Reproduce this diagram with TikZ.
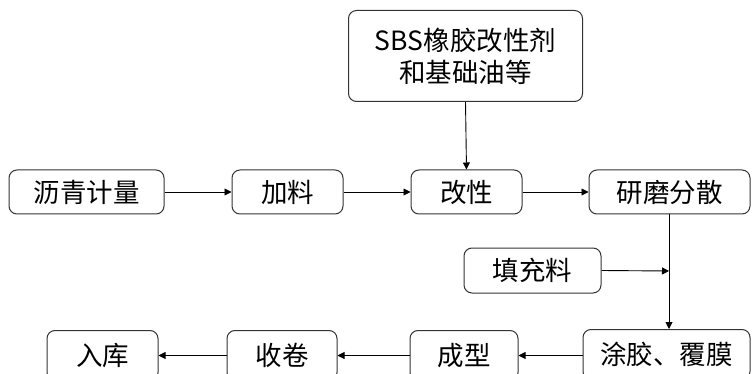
\documentclass[tikz,border=0pt]{standalone}
\usepackage{fontspec}
\setmainfont{Noto Sans CJK SC}
\usetikzlibrary{arrows.meta}
\begin{document}
\begin{tikzpicture}[x=1pt,y=-1pt,
  box/.style={draw=black!80,line width=1pt,rounded corners=8pt,inner sep=0pt,align=center,font=\fontsize{26.5}{32}\selectfont},
  conn/.style={line width=0.9pt,-{Triangle[length=7pt,width=7pt]}}]
\useasboundingbox (0,0) rectangle (752,374);
\clip (0,0) rectangle (752,374);
\node[box,minimum width=234pt,minimum height=91pt] (top) at (465.5,56) {SBS橡胶改性剂\\和基础油等};
\node[box,minimum width=155pt,minimum height=44pt] (a) at (86.5,192) {沥青计量};
\node[box,minimum width=111pt,minimum height=44pt] (b) at (287.5,192) {加料};
\node[box,minimum width=111pt,minimum height=44pt] (c) at (466.5,192) {改性};
\node[box,minimum width=161pt,minimum height=44pt] (d) at (669.5,192) {研磨分散};
\node[box,minimum width=137pt,minimum height=45pt] (f) at (532.5,270.5) {填充料};
\node[box,minimum width=167pt,minimum height=50pt,anchor=north] (g) at (666.5,329) {涂胶、覆膜};
\node[box,minimum width=108pt,minimum height=50pt,anchor=north] (h) at (464,330) {成型};
\node[box,minimum width=110pt,minimum height=50pt,anchor=north] (i) at (282,330) {收卷};
\node[box,minimum width=111pt,minimum height=50pt,anchor=north] (j) at (102.5,330) {入库};
\coordinate (jn) at (669,271);
\draw[conn] (top.south) -- (c.north);
\draw[conn] (a) -- (b);
\draw[conn] (b) -- (c);
\draw[conn] (c) -- (d);
\draw[conn] (d.south -| jn) -- (g.north -| jn);
\draw[conn] (f.east) -- (jn);
\draw[conn] (g.west |- h) -- (h.east);
\draw[conn] (h) -- (i);
\draw[conn] (i) -- (j);
\end{tikzpicture}
\end{document}
